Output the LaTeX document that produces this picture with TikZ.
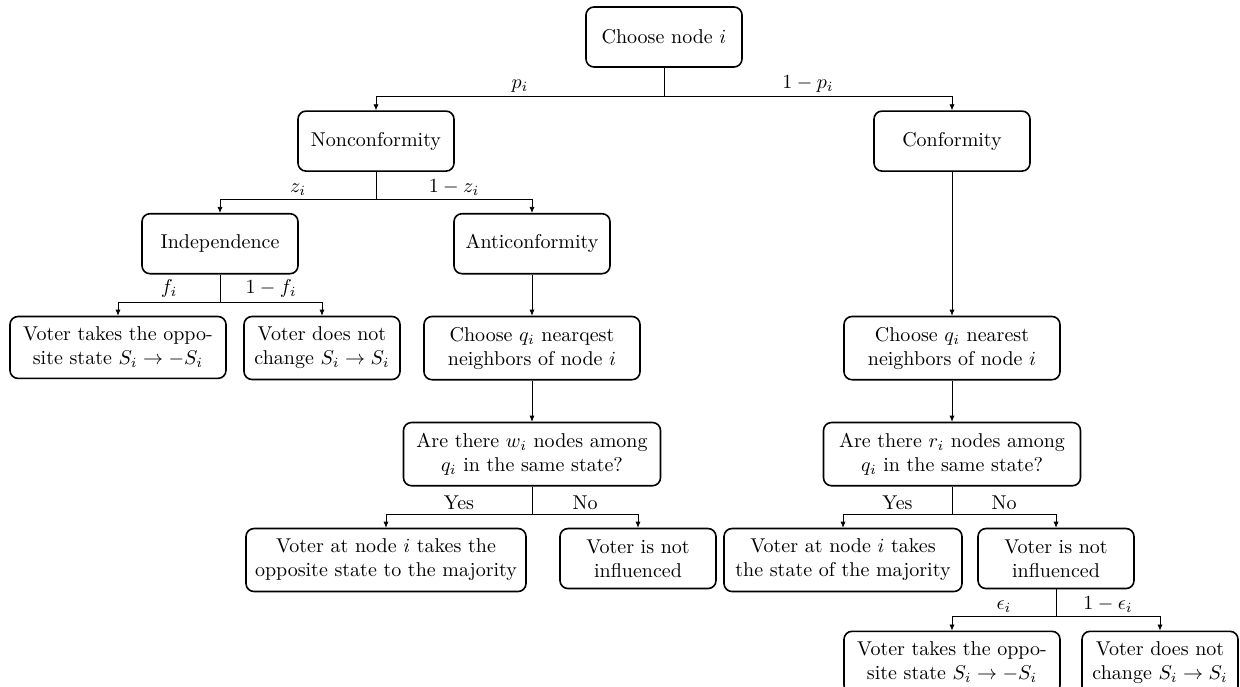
\documentclass[tikz,border=0pt]{standalone}
\usepackage{amsmath,amssymb}
\usetikzlibrary{arrows.meta,positioning}
\tikzset{
  block/.style={rectangle, rounded corners=4pt, draw=black, thick, align=center, minimum height=30pt, minimum width=78pt, inner xsep=4pt, inner ysep=5.25pt},
  flow/.style={-{Latex[length=3pt,width=2.6pt]}, draw=black},
  stem/.style={draw=black},
  prob/.style={above, inner sep=2pt},
}
\begin{document}
\begin{tikzpicture}[node distance=20.6pt]
  \useasboundingbox (-332pt,18.5pt) rectangle (288pt,-324.5pt);
  \node[block] (choose) at (0,0) {Choose node $i$};
  \node[block, below=21.25pt of choose, xshift=-144pt] (noncon) {Nonconformity};
  \node[block, below=21.25pt of choose, xshift=144pt] (conf) {Conformity};
  \node[block, below=20.5pt of noncon, xshift=-78pt] (indep) {Independence};
  \node[block, below=20.5pt of noncon, xshift=78pt] (anti) {Anticonformity};
  \node[block, minimum width=108pt, below=of indep, xshift=-51pt] (flipA) {Voter takes the oppo-\\site state $S_i \rightarrow -S_i$};
  \node[block, below=of indep, xshift=51pt] (keepA) {Voter does not\\change $S_i \rightarrow S_i$};
  \node[block, minimum width=108pt, below=of anti] (nbrW) {Choose $q_i$ nearqest\\neighbors of node $i$};
  \node[block, minimum width=128.5pt, below=of nbrW] (askW) {Are there $w_i$ nodes among\\$q_i$ in the same state?};
  \node[block, minimum width=140pt, below=of askW, xshift=-73pt] (oppMaj) {Voter at node $i$ takes the\\opposite state to the majority};
  \node[block, below=of askW, xshift=53pt] (noInfW) {Voter is not\\influenced};
  \node[block, minimum width=108pt] (nbrR) at (conf |- nbrW) {Choose $q_i$ nearest\\neighbors of node $i$};
  \node[block, minimum width=128.5pt, below=of nbrR] (askR) {Are there $r_i$ nodes among\\$q_i$ in the same state?};
  \node[block, minimum width=119pt, below=of askR, xshift=-54.5pt] (sameMaj) {Voter at node $i$ takes\\the state of the majority};
  \node[block, below=of askR, xshift=52pt] (noInfR) {Voter is not\\influenced};
  \node[block, minimum width=108pt, below=of noInfR, xshift=-52pt] (flipB) {Voter takes the oppo-\\site state $S_i \rightarrow -S_i$};
  \node[block, below=of noInfR, xshift=52pt] (keepB) {Voter does not\\change $S_i \rightarrow S_i$};
  % forks
  \draw[stem] (choose.south) -- ++(0,-14.5pt) coordinate (f0);
  \draw[flow] (f0) -| node[prob, pos=0.25] {$p_i$} (noncon);
  \draw[flow] (f0) -| node[prob, pos=0.25] {$1-p_i$} (conf);
  \draw[stem] (noncon.south) -- ++(0,-13.75pt) coordinate (f1);
  \draw[flow] (f1) -| node[prob, pos=0.25] {$z_i$} (indep);
  \draw[flow] (f1) -| node[prob, pos=0.25] {$1-z_i$} (anti);
  \draw[stem] (indep.south) -- ++(0,-13.75pt) coordinate (f2);
  \draw[flow] (f2) -| node[prob, pos=0.25] {$f_i$} (flipA);
  \draw[flow] (f2) -| node[prob, pos=0.25] {$1-f_i$} (keepA);
  \draw[flow] (anti) -- (nbrW);
  \draw[flow] (nbrW) -- (askW);
  \draw[stem] (askW.south) -- ++(0,-13.75pt) coordinate (f3);
  \draw[flow] (f3) -| node[prob, pos=0.25] {Yes} (oppMaj);
  \draw[flow] (f3) -| node[prob, pos=0.25] {No} (noInfW);
  \draw[flow] (conf) -- (nbrR);
  \draw[flow] (nbrR) -- (askR);
  \draw[stem] (askR.south) -- ++(0,-13.75pt) coordinate (f4);
  \draw[flow] (f4) -| node[prob, pos=0.25] {Yes} (sameMaj);
  \draw[flow] (f4) -| node[prob, pos=0.25] {No} (noInfR);
  \draw[stem] (noInfR.south) -- ++(0,-13.75pt) coordinate (f5);
  \draw[flow] (f5) -| node[prob, pos=0.25] {$\epsilon_i$} (flipB);
  \draw[flow] (f5) -| node[prob, pos=0.25] {$1-\epsilon_i$} (keepB);
\end{tikzpicture}
\end{document}
